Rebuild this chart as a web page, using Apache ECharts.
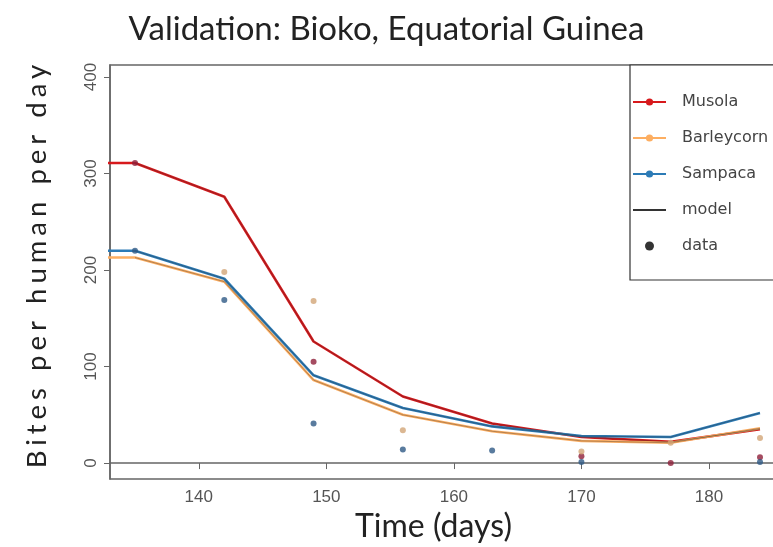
<!DOCTYPE html>
<html><head><meta charset="utf-8">
<script src="https://cdn.jsdelivr.net/npm/echarts@6/dist/echarts.min.js"></script>
<style>html,body{margin:0;padding:0;background:#fff}#c{width:773px;height:547px}</style>
</head><body><div id="c"></div>
<script>
// ---- data ----
const days = [128, 135, 142, 149, 156, 163, 170, 177, 184];
const musolaModel = [311, 311, 276, 126, 69, 41, 27, 22, 35];
const barleycornModel = [213, 213, 188, 86, 50, 33, 23, 21, 36];
const sampacaModel = [220, 220, 191, 91, 57, 38, 28, 27, 52];
const musolaDataDays = [135, 149, 170, 177, 184];
const musolaData = [311, 105, 7, 0, 6];
const barleycornDataDays = [142, 149, 156, 170, 177, 184];
const barleycornData = [198, 168, 34, 12, 21, 26];
const sampacaDataDays = [135, 142, 149, 156, 163, 170, 184];
const sampacaData = [220, 169, 41, 14, 13, 1, 1];
const xTicks = [140, 150, 160, 170, 180];
const yTicks = [0, 100, 200, 300, 400];

// letter spacing for the y-axis title only (drawn at a distinctive font size)
(function(){
  const orig = CanvasRenderingContext2D.prototype.fillText;
  CanvasRenderingContext2D.prototype.fillText = function(t, x, y, m){
    const args = m === undefined ? [t, x, y] : [t, x, y, m];
    if (this.font && this.font.indexOf('27.5px') !== -1 && 'letterSpacing' in this) {
      this.save();
      this.letterSpacing = '5px';
      orig.apply(this, args);
      this.restore();
    } else {
      orig.apply(this, args);
    }
  };
})();

const zip = (a, b) => a.map((v, i) => [v, b[i]]);

const modelLine = (name, xs, ys, color) => ({
  name, type: 'line', data: zip(xs, ys), symbol: 'circle', showSymbol: false,
  lineStyle: { color, width: 2.6 }, itemStyle: { color }, z: 2, silent: true
});
const overlay = (xs, ys) => ({
  name: 'model', type: 'line', data: zip(xs.slice(1), ys.slice(1)), symbol: 'none',
  lineStyle: { color: '#2a2a2a', width: 1, opacity: 0.35 }, itemStyle: { color: '#2a2a2a' }, z: 3, silent: true
});
const dots = (xs, ys, color) => ({
  name: 'data', type: 'scatter', data: zip(xs, ys), symbol: 'circle', symbolSize: 6,
  itemStyle: { color }, z: 4, silent: true
});

const chart = echarts.init(document.getElementById('c'), null, { renderer: 'canvas' });
chart.setOption({
  animation: false,
  backgroundColor: '#fff',
  title: {
    text: 'Validation: Bioko, Equatorial Guinea', left: 'center', top: 8,
    textStyle: { fontFamily: 'Lato', fontSize: 33, fontWeight: 'normal', color: '#222' }
  },
  grid: { left: 110, top: 65, width: 675, height: 414, show: true, borderColor: '#666', borderWidth: 1.5, outerBoundsMode: 'none' },
  legend: {
    orient: 'vertical', left: 630, top: 65, itemWidth: 33, itemHeight: 9, itemGap: 20,
    padding: [29, 60, 26, 2], borderColor: '#333', borderWidth: 1.2, backgroundColor: '#fff',
    selectedMode: false, z: 10,
    textStyle: { fontFamily: 'DejaVu Sans', fontSize: 16, color: '#444', lineHeight: 14, padding: [0, 0, 0, 11] },
    data: [
      'Musola', 'Barleycorn', 'Sampaca',
      { name: 'model', itemStyle: { opacity: 0 }, lineStyle: { color: '#333', opacity: 1, width: 2 } },
      { name: 'data', icon: 'circle', itemStyle: { color: '#000' } }
    ]
  },
  xAxis: {
    type: 'value', min: 133.04, max: 185.96,
    axisLine: { show: true, lineStyle: { color: '#666', width: 1.5 } },
    axisTick: { show: true, customValues: xTicks, length: 6, lineStyle: { color: '#666' } },
    axisLabel: { customValues: xTicks, fontFamily: 'Liberation Sans', fontSize: 17, color: '#555', margin: 10 },
    splitLine: { show: false },
    name: 'Time (days)', nameLocation: 'middle', nameGap: 29,
    nameTextStyle: { fontFamily: 'Lato', fontSize: 32, color: '#222', padding: [0, 28, 0, 0] }
  },
  yAxis: {
    type: 'value', min: -16.5, max: 412.5,
    axisLine: { show: true, lineStyle: { color: '#666', width: 1.5 } },
    axisTick: { show: true, customValues: yTicks, length: 6, lineStyle: { color: '#666' } },
    axisLabel: { customValues: yTicks, rotate: 90, fontFamily: 'Liberation Sans', fontSize: 17, color: '#555', margin: 10 },
    splitLine: { show: false },
    name: 'Bites per human per day', nameLocation: 'middle', nameRotate: 90, nameGap: 59,
    nameTextStyle: { fontFamily: 'Lato', fontSize: 27.5, color: '#222', padding: [0, 0, 0, 16] }
  },
  series: [
    modelLine('Musola', days, musolaModel, '#d7191c'),
    modelLine('Barleycorn', days, barleycornModel, '#fdae61'),
    modelLine('Sampaca', days, sampacaModel, '#2c7bb6'),
    overlay(days, musolaModel),
    overlay(days, barleycornModel),
    overlay(days, sampacaModel),
    dots(musolaDataDays, musolaData, '#8e1f3a'),
    dots(barleycornDataDays, barleycornData, '#d2a577'),
    dots(sampacaDataDays, sampacaData, '#2f5a86')
  ]
});
</script>
</body></html>
